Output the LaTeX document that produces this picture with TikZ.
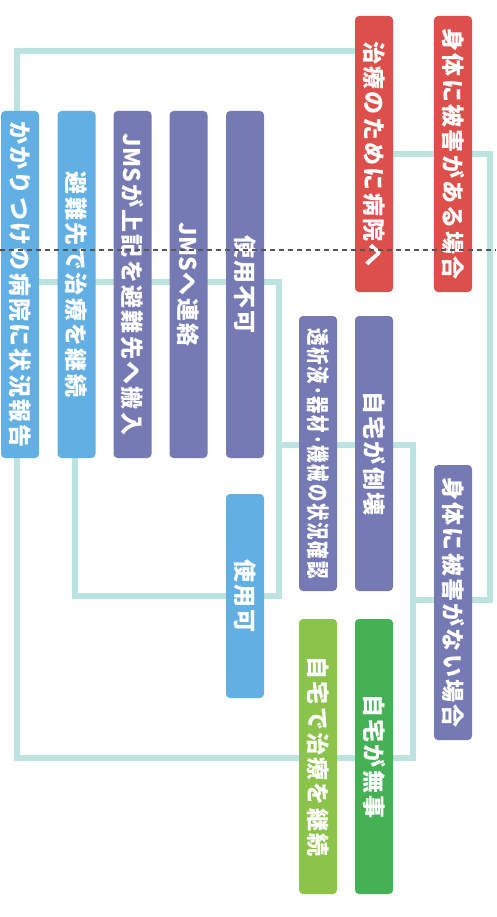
\documentclass[tikz,border=0pt]{standalone}
\usepackage{fontspec}
\newfontfamily\jp{Noto Sans CJK JP}[LetterSpace=10]
\newfontfamily\jpn{Noto Sans CJK JP}
\newcommand{\lat}[1]{{\jpn\bfseries #1\hspace{2pt}}}
\definecolor{cred}{HTML}{DC4F4B}
\definecolor{cpur}{HTML}{757AB5}
\definecolor{cblue}{HTML}{62AFE3}
\definecolor{cgreen}{HTML}{44B254}
\definecolor{clgreen}{HTML}{8CC34A}
\definecolor{linec}{HTML}{BDE3E0}
\definecolor{dashc}{HTML}{555555}
\pgfdeclarelayer{bg}
\pgfsetlayers{bg,main}
\begin{document}
\begin{tikzpicture}[x=1pt,y=-1pt,
  box/.style={rounded corners=4pt, minimum width=38pt, inner sep=0pt, text=white,
    font=\jp\bfseries\fontsize{23}{23}\selectfont},
  conn/.style={draw=linec, line width=6pt},
  sep/.style={draw=dashc, line width=1.2pt, dash pattern=on 5pt off 4pt}]
\useasboundingbox (0,0) rectangle (496,917);
% boxes
\node[box, fill=cred, minimum height=276pt] (harm) at (453,154) {\rotatebox{-90}{身体に被害がある場合}};
\node[box, fill=cred, minimum height=276pt] (hosp) at (374,154) {\rotatebox{-90}{治療のために病院へ}};
\node[box, fill=cpur, minimum height=347pt] (unus) at (245,284.5) {\rotatebox{-90}{使用不可}};
\node[box, fill=cpur, minimum height=347pt] (jms) at (188.5,284.5) {\rotatebox{-90}{\lat{JMS}へ連絡}};
\node[box, fill=cpur, minimum height=347pt] (carry) at (132.5,284.5) {\rotatebox{-90}{\lat{JMS}が上記を避難先へ搬入}};
\node[box, fill=cblue, minimum height=347pt] (shelter) at (76.5,284.5) {\rotatebox{-90}{避難先で治療を継続}};
\node[box, fill=cblue, minimum height=347pt] (report) at (20,284.5) {\rotatebox{-90}{かかりつけの病院に状況報告}};
\node[box, fill=cblue, minimum height=204pt] (usable) at (245,596) {\rotatebox{-90}{使用可}};
\node[box, fill=cpur, minimum height=275pt] (check) at (318,453.5) {\rotatebox{-90}{\resizebox{250pt}{\height}{透析液･器材･機械の状況確認}}};
\node[box, fill=cpur, minimum height=275pt] (collapse) at (374,453.5) {\rotatebox{-90}{自宅が倒壊}};
\node[box, fill=cpur, minimum height=275pt] (noharm) at (453,602.5) {\rotatebox{-90}{身体に被害がない場合}};
\node[box, fill=clgreen, minimum height=275pt] (home) at (318,756.5) {\rotatebox{-90}{自宅で治療を継続}};
\node[box, fill=cgreen, minimum height=275pt] (safe) at (374,756.5) {\rotatebox{-90}{自宅が無事}};
% junctions
\coordinate (kR) at (490,600);
\coordinate (kT) at (413,445);
\coordinate (kB) at (413,758);
\coordinate (kL) at (279,445);
\coordinate (kU) at (279,282);
\coordinate (kD) at (279,596);
\begin{pgfonlayer}{bg}
\fill[white] (0,0) rectangle (496,917);
\draw[conn] ([yshift=-35pt]hosp.north west) -| ([xshift=-3pt]report.north);
\draw[conn] (hosp.east) -| (kR) -- (kR -| kT);
\draw[conn] (kL) -- (kT) -- (kB) -| ([xshift=-3pt]report.south);
\draw[conn] (report.center |- kU) -- (kU) -- (kD) -- (usable.east);
\draw[conn] (usable.west) -| ([xshift=-1.5pt]shelter.south);
\end{pgfonlayer}
\coordinate (dL) at (0,250);
\coordinate (dR) at (496,250);
\draw[sep] (dL) -- (dR);
\end{tikzpicture}
\end{document}
